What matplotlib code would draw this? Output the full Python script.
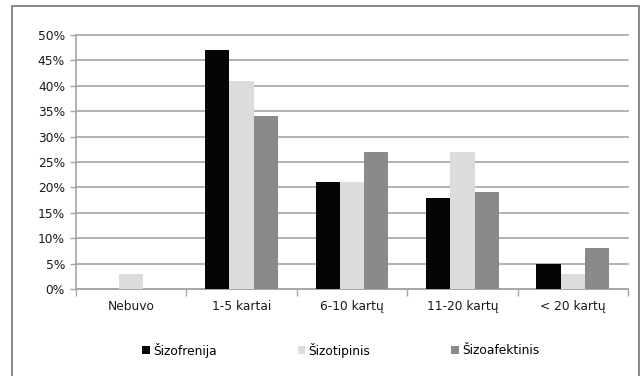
import matplotlib
matplotlib.use("Agg")
import matplotlib.pyplot as plt
from matplotlib.patches import Patch, Rectangle
from matplotlib.ticker import FixedLocator, PercentFormatter
import numpy as np

categories = ["Nebuvo", "1-5 kartai", "6-10 kartų", "11-20 kartų", "< 20 kartų"]
series_names = ["Šizofrenija", "Šizotipinis", "Šizoafektinis"]
sizofrenija = [0, 47, 21, 18, 5]
sizotipinis = [3, 41, 21, 27, 3]
sizoafektinis = [0, 34, 27, 19, 8]
colors = ["#050505", "#dcdcdc", "#8a8a8a"]

plt.rcParams["font.family"] = ["DejaVu Sans"]
plt.rcParams["font.size"] = 8.8

W, H = 642, 376
fig = plt.figure(figsize=(W / 100, H / 100), dpi=100)
ax = fig.add_axes([76 / W, 1 - 289 / H, (628 - 76) / W, (289 - 35) / H])

x = np.arange(len(categories))
bw = 0.22
all_series = [sizofrenija, sizotipinis, sizoafektinis]
for i, (vals, c) in enumerate(zip(all_series, colors)):
    ax.bar(x + (i - 1) * bw, vals, width=bw, color=c, zorder=3, linewidth=0)

ax.set_xlim(-0.5, len(categories) - 0.5)
ax.set_ylim(0, 50)
ax.set_yticks(np.arange(0, 51, 5))
ax.yaxis.set_major_formatter(PercentFormatter(decimals=0))
ax.grid(axis="y", color="#a6a6a6", linewidth=1.2, zorder=0)
for gl in ax.get_ygridlines():
    gl.set_clip_on(False)

ax.set_xticks(x)
ax.set_xticklabels(categories)
ax.tick_params(axis="x", which="major", length=0, pad=8, colors="#1a1a1a")
ax.xaxis.set_minor_locator(FixedLocator(np.arange(-0.5, len(categories), 1.0)))
ax.tick_params(axis="x", which="minor", length=5, width=1, color="#a6a6a6")
ax.tick_params(axis="y", length=4, width=1, pad=4, colors="#1a1a1a")
ax.tick_params(axis="y", color="#a6a6a6")

for side in ["top", "right"]:
    ax.spines[side].set_visible(False)
for side in ["left", "bottom"]:
    ax.spines[side].set_color("#a6a6a6")
    ax.spines[side].set_linewidth(1.2)

handles = [Patch(facecolor=c, edgecolor="none") for c in colors]
fig.legend(handles, series_names, loc="center", bbox_to_anchor=(0.531, 1 - 350 / H),
           ncol=3, frameon=False, handlelength=0.6, handleheight=0.6,
           handletextpad=0.3, columnspacing=6.6, fontsize=8.8)

fig.patches.append(Rectangle((12 / W, -0.05), (639 - 12) / W, 1.05 - 6 / H,
                             transform=fig.transFigure, fill=False,
                             edgecolor="#7f7f7f", linewidth=1.3))

fig.savefig("out.png", dpi=100)
